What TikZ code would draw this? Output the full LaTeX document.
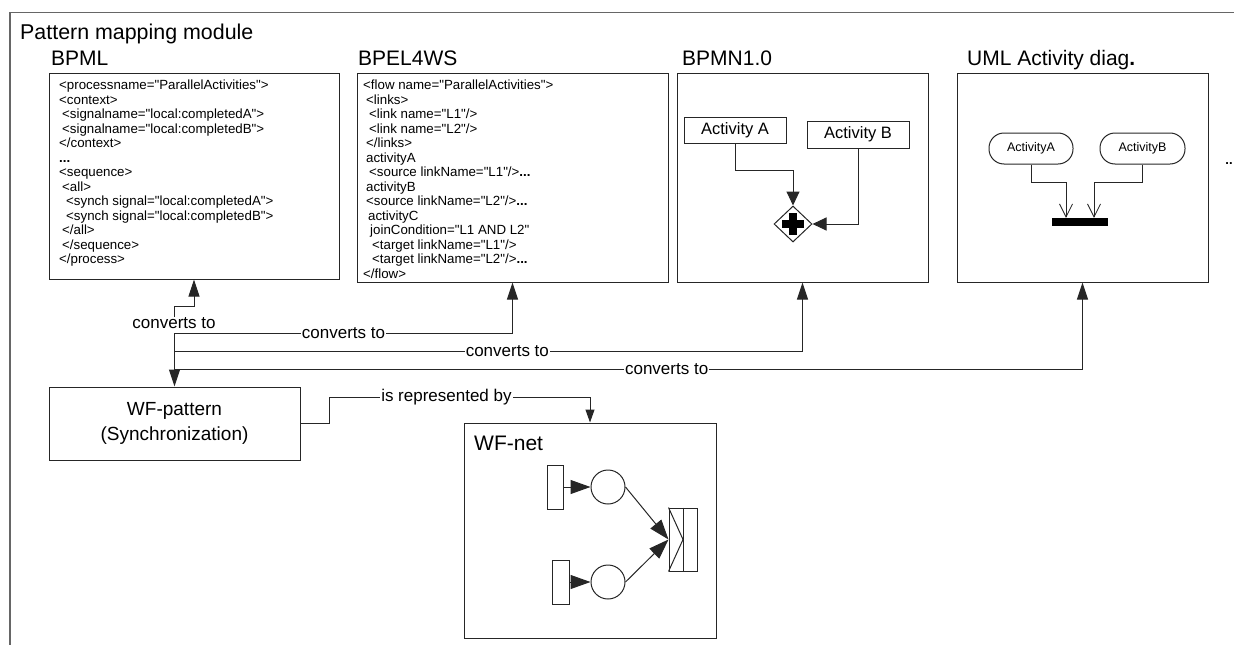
\documentclass[tikz,border=0pt]{standalone}
\usepackage{fontspec}
\setmainfont{Liberation Sans}[Ligatures=TeXOff]
\usetikzlibrary{arrows.meta,shapes.geometric,calc}
\begin{document}
\begin{tikzpicture}[x=1pt,y=-1pt,
  box/.style={draw=black!85, line width=1pt, rectangle, inner sep=0pt},
  code/.style={font=\fontsize{13.3}{14.5}\selectfont, align=left, anchor=north west, inner sep=0pt},
  hdr/.style={font=\fontsize{21}{24}\selectfont, anchor=base west, inner sep=0pt},
  lbl/.style={font=\fontsize{17}{20}\selectfont, fill=white, inner xsep=1pt, inner ysep=0pt},
  conn/.style={draw=black!85, line width=1pt},
  bigtip/.style={-{Triangle[length=17pt,width=11pt]}},
  smalltip/.style={-{Triangle[length=13pt,width=9pt]}},
  bpmntip/.style={-{Triangle[length=14pt,width=13pt]}},
  pntip/.style={-{Triangle[length=20pt,width=14pt]}},
  veetip/.style={-{Straight Barb[length=13pt,width=13pt]}},
  act/.style={box, font=\fontsize{16.5}{18}\selectfont},
  uact/.style={box, rounded corners=15pt, font=\fontsize{12.5}{14}\selectfont},
]
\useasboundingbox (0,0) rectangle (1234,645);
% outer frame
\draw[draw=black!60, line width=1.5pt] (10,645) -- (10,12.5) -- (1234,12.5);
\node[hdr, font=\fontsize{21.4}{24}\selectfont] (title) at (20,39) {Pattern mapping module};

% headers
\node[hdr] (hbpml) at (51,65) {BPML};
\node[hdr] (hbpel) at (358,65) {BPEL4WS};
\node[hdr] (hbpmn) at (682,65) {BPMN1.0};
\node[hdr] (huml) at (967,65) {UML Activity diag\textbf{.}};

% boxes
\node[box, minimum width=290pt, minimum height=206pt] (bpml) at (194,176) {};
\node[box, minimum width=311pt, minimum height=209pt] (bpel) at (512.5,177.5) {};
\node[box, minimum width=251pt, minimum height=209pt] (bpmn) at (802.5,177.5) {};
\node[box, minimum width=251pt, minimum height=209pt] (uml) at (1082.5,177.5) {};

% BPML code
\node[code] (bpmlcode) at (59,80) {<processname="ParallelActivities">\\
<context>\\
\hspace*{3pt}<signalname="local:completedA">\\
\hspace*{3pt}<signalname="local:completedB">\\
</context>\\
\textbf{...}\\
<sequence>\\
\hspace*{3pt}<all>\\
\hspace*{7pt}<synch signal="local:completedA">\\
\hspace*{7pt}<synch signal="local:completedB">\\
\hspace*{3pt}</all>\\
\hspace*{3pt}</sequence>\\
</process>};

% BPEL code
\node[code] (bpelcode) at (363,80) {<flow name="ParallelActivities">\\
\hspace*{3pt}<links>\\
\hspace*{6pt}<link name="L1"/>\\
\hspace*{6pt}<link name="L2"/>\\
\hspace*{3pt}</links>\\
\hspace*{3pt}activityA\\
\hspace*{6pt}<source linkName="L1"/>\textbf{...}\\
\hspace*{3pt}activityB\\
\hspace*{3pt}<source linkName="L2"/>\textbf{...}\\
\hspace*{5pt}activityC\\
\hspace*{7pt}joinCondition="L1 AND L2"\\
\hspace*{9pt}<target linkName="L1"/>\\
\hspace*{9pt}<target linkName="L2"/>\textbf{...}\\
</flow>};

% BPMN
\node[act, minimum width=102pt, minimum height=26pt] (actA) at (735,130) {Activity A};
\node[act, minimum width=102pt, minimum height=27pt] (actB) at (858,134.5) {Activity B};
\node[diamond, draw=black!85, line width=1pt, minimum width=38pt, minimum height=36pt, inner sep=0pt] (gw) at (793,224) {};
\fill[black] ($(gw.center)+(-11,-4)$) rectangle ($(gw.center)+(11,4)$);
\fill[black] ($(gw.center)+(-4,-11)$) rectangle ($(gw.center)+(4,11)$);
\draw[conn, bpmntip] (actA.south) -- (actA.south |- 0,170) -| (gw.north);
\draw[conn, bpmntip] (actB.south) |- (gw.east);

% UML
\node[uact, minimum width=84pt, minimum height=31pt] (ua) at (1031,148.5) {ActivityA};
\node[uact, minimum width=85pt, minimum height=31pt] (ub) at (1142.5,148.5) {ActivityB};
\node[rectangle, fill=black, minimum width=56pt, minimum height=8pt, inner sep=0pt] (bar) at (1080,222) {};
\coordinate (u1) at (1066,182);
\coordinate (u2) at (1094,182);
\draw[conn, line width=0.8pt, veetip] (ua.south) |- (u1) -- (u1 |- bar.north);
\draw[conn, line width=0.8pt, veetip] (ub.south) |- (u2) -- (u2 |- bar.north);
\node[font=\bfseries\fontsize{13}{14}\selectfont, inner sep=0pt] (dots) at (1229,164) {..};

% WF-pattern and WF-net
\node[box, minimum width=251pt, minimum height=73pt, align=center, font=\fontsize{19}{25}\selectfont] (wfp) at (174.5,423.5) {WF-pattern\\(Synchronization)};
\node[box, minimum width=252pt, minimum height=215pt] (wfnet) at (590,530.5) {};
\node[hdr] (hwfnet) at (474,450.5) {WF-net};

% converts-to connectors
\node[lbl] (cv1) at (174,323) {converts to};
\coordinate (h1) at (174,306);
\draw[conn, bigtip] (cv1.north) -- (h1) -| (bpml.south);
\coordinate (k1) at (wfp.north |- 0,333);
\coordinate (k2) at (wfp.north |- 0,351);
\coordinate (k3) at (wfp.north |- 0,369);
\draw[conn, bigtip] (k1) -- (wfp.north);
\draw[conn, bigtip] (k1) -- node[lbl, pos=0.5] (cv2) {converts to} (k1 -| bpel.south) -- (bpel.south);
\draw[conn, bigtip] (k2) -- node[lbl, pos=0.53] (cv3) {converts to} (k2 -| bpmn.south) -- (bpmn.south);
\draw[conn, bigtip] (k3) -- node[lbl, pos=0.542] (cv4) {converts to} (k3 -| uml.south) -- (uml.south);

% is represented by
\coordinate (r1) at (329,397);
\coordinate (r2) at (wfnet.north |- 0,397);
\draw[conn, smalltip] (wfp.east) -| (r1) -- node[lbl, pos=0.45] (rep) {is represented by} (r2) -- (wfnet.north);

% Petri net
\node[box, minimum width=16pt, minimum height=44pt] (ta) at (555,487) {};
\node[box, minimum width=17pt, minimum height=44pt] (tb) at (560.5,582) {};
\node[circle, draw=black!85, line width=1pt, minimum size=34pt, inner sep=0pt] (pa) at (608,487) {};
\node[circle, draw=black!85, line width=1pt, minimum size=34pt, inner sep=0pt] (pb) at (608,582) {};
\node[box, minimum width=28pt, minimum height=63pt] (tc) at (683,539.5) {};
\draw[conn] (tc.north) -- (tc.south);
\draw[conn] (tc.north west) -- (tc.center) -- (tc.south west);
\draw[conn, pntip] (ta.east) -- (pa.west);
\draw[conn, pntip] (tb.east) -- (pb.west);
\draw[conn, pntip] (pa.east) -- (tc.west);
\draw[conn, pntip] (pb.east) -- (tc.west);
\end{tikzpicture}
\end{document}
